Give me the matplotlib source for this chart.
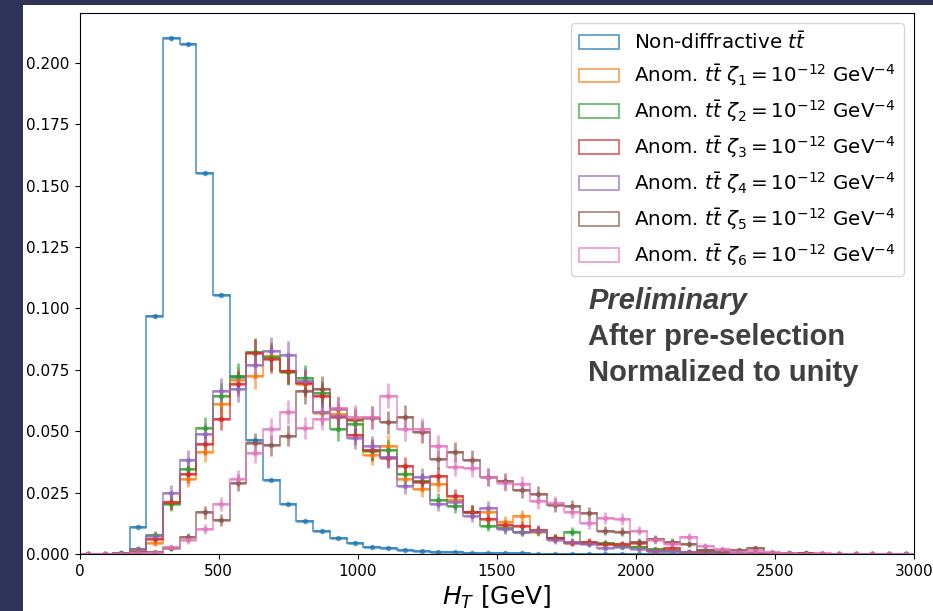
import numpy as np
import matplotlib
matplotlib.use("Agg")
import matplotlib.pyplot as plt
from matplotlib.patches import Rectangle

# H_T binning: 50 bins of 60 GeV from 0 to 3000 GeV
bin_edges = np.arange(0, 3001, 60)
bin_centers = 0.5 * (bin_edges[:-1] + bin_edges[1:])

# Normalized H_T distributions (fraction of events per bin)
nondiff = [0, 0, 0.0003, 0.0111, 0.0969, 0.2099, 0.2075, 0.1551, 0.1053, 0.0722,
           0.0463, 0.0302, 0.0204, 0.0136, 0.0094, 0.0064, 0.0044, 0.0030, 0.0023, 0.0017,
           0.0013, 0.0010, 0.0008, 0.0006, 0.0005, 0.0004, 0.0003, 0.0002, 0.0002, 0.0001,
           0.0001, 0.0001, 0, 0, 0, 0, 0, 0, 0, 0,
           0, 0, 0, 0, 0, 0, 0, 0, 0, 0]

zeta1 = [0, 0, 0.0003, 0.0020, 0.0046, 0.0209, 0.0306, 0.0414, 0.0609, 0.0709,
         0.0724, 0.0805, 0.0746, 0.0691, 0.0574, 0.0568, 0.0550, 0.0404, 0.0441, 0.0306,
         0.0264, 0.0285, 0.0219, 0.0173, 0.0169, 0.0132, 0.0153, 0.0091, 0.0064, 0.0050,
         0.0046, 0.0041, 0.0037, 0.0030, 0.0016, 0.0016, 0.0009, 0.0008, 0.0004, 0.0003,
         0, 0, 0, 0, 0, 0, 0, 0, 0, 0]

zeta2 = [0, 0, 0.0003, 0.0020, 0.0076, 0.0204, 0.0346, 0.0512, 0.0645, 0.0724,
         0.0822, 0.0803, 0.0743, 0.0716, 0.0654, 0.0507, 0.0530, 0.0418, 0.0422, 0.0325,
         0.0296, 0.0220, 0.0194, 0.0173, 0.0114, 0.0105, 0.0091, 0.0095, 0.0064, 0.0091,
         0.0044, 0.0044, 0.0033, 0.0028, 0.0019, 0.0013, 0.0009, 0.0016, 0.0004, 0.0003,
         0, 0, 0, 0, 0, 0, 0, 0, 0, 0]

zeta3 = [0, 0, 0.0002, 0.0010, 0.0060, 0.0212, 0.0326, 0.0447, 0.0550, 0.0694,
         0.0817, 0.0795, 0.0746, 0.0696, 0.0645, 0.0558, 0.0486, 0.0425, 0.0391, 0.0357,
         0.0292, 0.0318, 0.0235, 0.0173, 0.0142, 0.0118, 0.0114, 0.0098, 0.0064, 0.0046,
         0.0050, 0.0040, 0.0041, 0.0044, 0.0013, 0.0023, 0.0008, 0.0005, 0.0005, 0.0004,
         0.0004, 0.0003, 0.0003, 0.0005, 0, 0, 0, 0, 0, 0]

zeta4 = [0, 0, 0.0003, 0.0020, 0.0073, 0.0248, 0.0383, 0.0490, 0.0664, 0.0670,
         0.0771, 0.0825, 0.0809, 0.0706, 0.0577, 0.0561, 0.0471, 0.0438, 0.0395, 0.0277,
         0.0313, 0.0204, 0.0210, 0.0155, 0.0187, 0.0101, 0.0091, 0.0095, 0.0057, 0.0050,
         0.0041, 0.0023, 0.0030, 0.0019, 0.0013, 0.0011, 0.0009, 0.0008, 0.0004, 0.0003,
         0, 0, 0, 0, 0, 0, 0, 0, 0, 0]

zeta5 = [0, 0, 0.0001, 0.0003, 0.0008, 0.0024, 0.0070, 0.0169, 0.0139, 0.0290,
         0.0450, 0.0443, 0.0482, 0.0663, 0.0672, 0.0590, 0.0545, 0.0554, 0.0536, 0.0558,
         0.0496, 0.0386, 0.0414, 0.0383, 0.0313, 0.0296, 0.0259, 0.0244, 0.0200, 0.0194,
         0.0166, 0.0095, 0.0091, 0.0050, 0.0060, 0.0050, 0.0041, 0.0016, 0.0013, 0.0016,
         0.0023, 0.0005, 0.0005, 0.0005, 0, 0, 0, 0, 0, 0]

zeta6 = [0, 0, 0.0001, 0.0003, 0.0005, 0.0028, 0.0057, 0.0103, 0.0202, 0.0306,
         0.0411, 0.0507, 0.0577, 0.0512, 0.0550, 0.0594, 0.0559, 0.0556, 0.0645, 0.0507,
         0.0507, 0.0441, 0.0354, 0.0351, 0.0313, 0.0289, 0.0285, 0.0214, 0.0207, 0.0173,
         0.0125, 0.0146, 0.0142, 0.0095, 0.0057, 0.0042, 0.0070, 0.0034, 0.0019, 0.0009,
         0.0013, 0.0009, 0.0005, 0.0002, 0.0004, 0, 0, 0, 0, 0]

# Number of generated events per sample (for the statistical uncertainties)
n_events_nondiff = 1_000_000
n_events_anom = 2500

series_labels = [
    r"Non-diffractive $t\bar{t}$",
    r"Anom. $t\bar{t}$ $\zeta_1 = 10^{-12}$ GeV$^{-4}$",
    r"Anom. $t\bar{t}$ $\zeta_2 = 10^{-12}$ GeV$^{-4}$",
    r"Anom. $t\bar{t}$ $\zeta_3 = 10^{-12}$ GeV$^{-4}$",
    r"Anom. $t\bar{t}$ $\zeta_4 = 10^{-12}$ GeV$^{-4}$",
    r"Anom. $t\bar{t}$ $\zeta_5 = 10^{-12}$ GeV$^{-4}$",
    r"Anom. $t\bar{t}$ $\zeta_6 = 10^{-12}$ GeV$^{-4}$",
]
series_values = [nondiff, zeta1, zeta2, zeta3, zeta4, zeta5, zeta6]
series_events = [n_events_nondiff] + [n_events_anom] * 6
series_colors = ["C0", "C1", "C2", "C3", "C4", "C5", "C6"]

W, H = 933, 611
fig = plt.figure(figsize=(W / 100, H / 100), dpi=100)
fig.patch.set_facecolor("white")

# dark slide frame on the left and top edges
frame_color = "#2d3457"
fig.patches.append(Rectangle((0, 0), 22.6 / W, 1, transform=fig.transFigure,
                             facecolor=frame_color, edgecolor="none", zorder=-10))
fig.patches.append(Rectangle((0, 1 - 4.7 / H), 1, 4.7 / H, transform=fig.transFigure,
                             facecolor=frame_color, edgecolor="none", zorder=-10))

left, right, top, bottom = 79.5, 914.0, 12.7, 554.0
ax = fig.add_axes([left / W, 1 - bottom / H, (right - left) / W, (bottom - top) / H])

half_width = 0.5 * (bin_edges[1] - bin_edges[0])
for vals, n_ev, col, lab in zip(series_values, series_events, series_colors, series_labels):
    vals = np.asarray(vals, dtype=float)
    err = np.sqrt(vals / n_ev)
    ax.hist(bin_centers, bins=bin_edges, weights=vals, histtype="step",
            color=col, alpha=0.7, lw=1.3, label=lab)
    ax.errorbar(bin_centers, vals, yerr=err, xerr=half_width, fmt=".",
                color=col, alpha=0.6, markersize=6, elinewidth=2.0)

# 5 % headroom above the tallest bin
ax.set_xlim(0, 3000)
ax.set_ylim(0, 1.05 * max(nondiff))
ax.set_yticks(np.arange(0, 0.2001, 0.025))
ax.set_yticklabels([f"{v:.3f}" for v in np.arange(0, 0.2001, 0.025)])
ax.tick_params(labelsize=11)
ax.set_xlabel(r"$H_T$ [GeV]", fontsize=18)

ax.legend(loc="upper right", fontsize=14.3)

txt_kw = dict(transform=ax.transAxes, fontsize=21, color="#404040",
              family="Liberation Sans", fontweight="bold", va="baseline", ha="left")
xa = (588 - left) / (right - left)
ax.text(xa, (bottom - 309) / (bottom - top), "Preliminary", style="italic", **txt_kw)
ax.text(xa, (bottom - 345) / (bottom - top), "After pre-selection", **txt_kw)
ax.text(xa, (bottom - 381) / (bottom - top), "Normalized to unity", **txt_kw)

fig.savefig("out.png", dpi=100)
